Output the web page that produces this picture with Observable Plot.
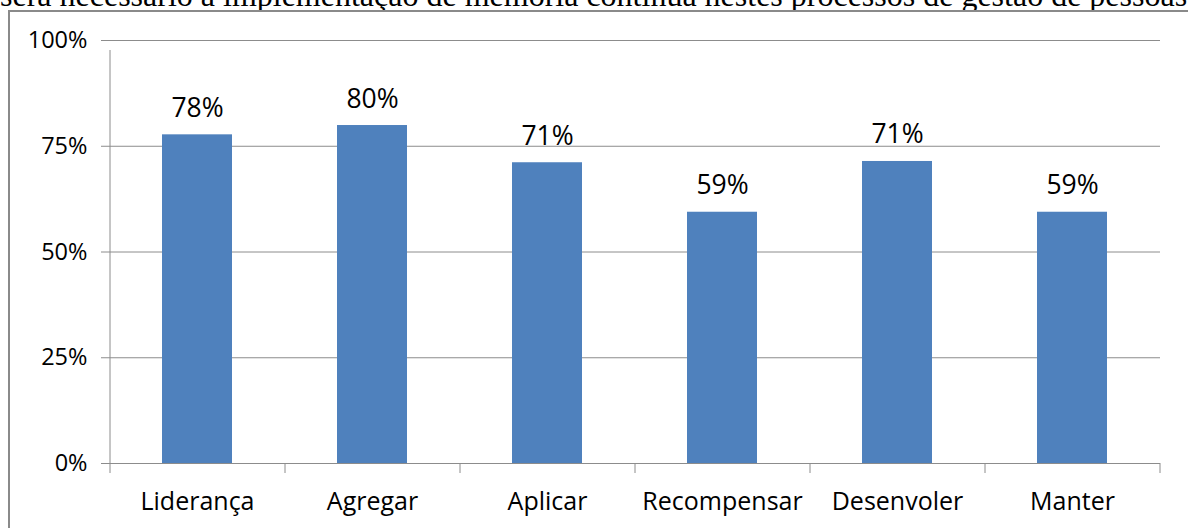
<!DOCTYPE html>
<html><head><meta charset="utf-8">
<script src="https://cdn.jsdelivr.net/npm/d3@7"></script>
<script src="https://cdn.jsdelivr.net/npm/@observablehq/plot@0.6"></script>
<style>
html,body{margin:0;padding:0;background:#fff;}
#wrap{position:relative;width:1188px;height:528px;overflow:hidden;background:#fff;}
#doc{position:absolute;left:0;top:0;width:1400px;height:10px;overflow:hidden;}
#doc span{position:absolute;left:0;top:-21px;font-family:"Liberation Serif",serif;font-size:32px;line-height:32px;white-space:nowrap;color:#000;}
#frame{position:absolute;left:8px;top:10px;width:1300px;height:700px;border-left:2px solid #8a8a8a;border-top:2px solid #8a8a8a;}
#chart{position:absolute;left:0;top:0;}
</style>
</head><body>
<div id="wrap">
  <div id="doc"><span>será necessário a implementação de memória contínua nestes processos de gestão de pessoas</span></div>
  <div id="frame"></div>
  <div id="chart"></div>
</div>
<script>
const categories = ["Liderança", "Agregar", "Aplicar", "Recompensar", "Desenvoler", "Manter"];
const values = [77.7, 79.9, 71.1, 59.4, 71.4, 59.4];
const yTicks = [0, 25, 50, 75, 100];

const data = categories.map((c, i) => ({c, v: values[i]}));
const W = 1188, H = 528, ML = 110, MR = 28, MT = 40, MB = 65;
const step = (W - ML - MR) / categories.length;
const gray = "#8c8c8c";

const chart = Plot.plot({
  width: W, height: H,
  marginLeft: ML, marginRight: MR, marginTop: MT, marginBottom: MB,
  style: {fontFamily: "'Open Sans', sans-serif", fontSize: "23.5px", color: "#000", background: "transparent", overflow: "visible"},
  x: {domain: categories, paddingInner: 0.6, paddingOuter: 0.3, axis: null},
  y: {domain: [0, 100], ticks: yTicks, tickFormat: d => d + "%", tickSize: 0, tickPadding: 23, label: null},
  marks: [
    Plot.ruleY(yTicks, {stroke: gray, insetLeft: -9}),
    Plot.ruleX([categories[0]], {y1: 0, y2: 100, dx: -step / 2, insetBottom: -10, stroke: gray}),
    Plot.ruleX(categories, {y1: 0, y2: 0, dx: -step / 2, insetBottom: -10, stroke: gray}),
    Plot.ruleX([categories[categories.length - 1]], {y1: 0, y2: 0, dx: step / 2, insetBottom: -10, stroke: gray}),
    Plot.barY(data, {x: "c", y: "v", fill: "#4f81bd"}),
    Plot.text(data, {x: "c", y: "v", text: d => Math.round(d.v) + "%", dy: -18, lineAnchor: "bottom", fontSize: 26.5, fill: "#000"}),
    Plot.text(categories, {x: d => d, frameAnchor: "bottom", lineAnchor: "top", dy: 29, fontSize: 25, fill: "#000"})
  ]
});
document.getElementById("chart").appendChild(chart);
</script>
</body></html>
